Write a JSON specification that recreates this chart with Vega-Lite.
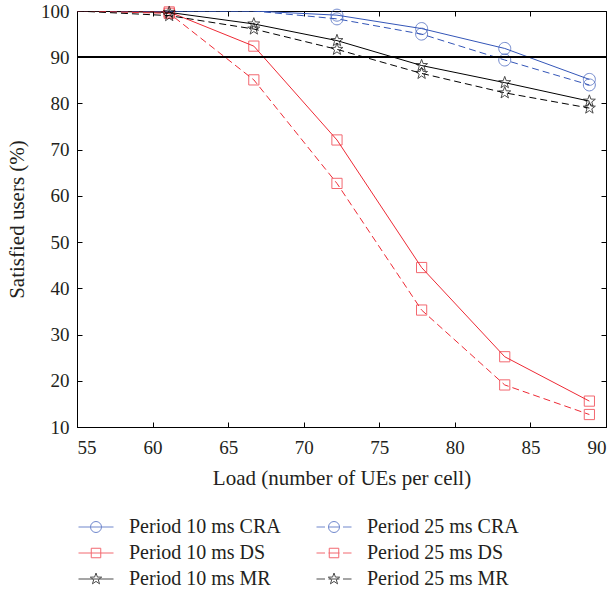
{
  "$schema": "https://vega.github.io/schema/vega-lite/v6.json",
  "width": 529,
  "height": 416,
  "autosize": "none",
  "padding": {"left": 77, "top": 11, "right": 9, "bottom": 163},
  "background": "white",
  "config": {
    "view": {"stroke": "black", "strokeWidth": 1},
    "font": "Liberation Serif",
    "axis": {
      "labelFont": "Liberation Serif",
      "labelFontSize": 19,
      "labelColor": "#231f20",
      "titleFont": "Liberation Serif",
      "titleFontSize": 21,
      "titleFontWeight": "normal",
      "titleColor": "#231f20",
      "domainColor": "black",
      "tickColor": "black",
      "tickSize": -5,
      "grid": false
    },
    "legend": {
      "orient": "none",
      "legendX": 9,
      "legendY": 506,
      "columns": 2,
      "direction": "horizontal",
      "labelFont": "Liberation Serif",
      "labelFontSize": 20,
      "labelColor": "#231f20",
      "symbolSize": 100,
      "symbolStrokeWidth": 1,
      "symbolFillColor": "transparent",
      "labelOffset": 23,
      "columnPadding": 33,
      "rowPadding": 6
    }
  },
  "data": {
    "values": [
      {"series": "Period 10 ms CRA", "load": 55, "value": 100},
      {"series": "Period 10 ms CRA", "load": 61.1, "value": 100},
      {"series": "Period 10 ms CRA", "load": 66.7, "value": 100},
      {"series": "Period 10 ms CRA", "load": 72.2, "value": 99.1},
      {"series": "Period 10 ms CRA", "load": 77.8, "value": 96.2},
      {"series": "Period 10 ms CRA", "load": 83.3, "value": 91.9},
      {"series": "Period 10 ms CRA", "load": 88.9, "value": 85.2},
      {"series": "Period 25 ms CRA", "load": 55, "value": 100},
      {"series": "Period 25 ms CRA", "load": 61.1, "value": 100},
      {"series": "Period 25 ms CRA", "load": 66.7, "value": 100},
      {"series": "Period 25 ms CRA", "load": 72.2, "value": 98.3},
      {"series": "Period 25 ms CRA", "load": 77.8, "value": 95.0},
      {"series": "Period 25 ms CRA", "load": 83.3, "value": 89.4},
      {"series": "Period 25 ms CRA", "load": 88.9, "value": 84.0},
      {"series": "Period 10 ms DS", "load": 55, "value": 100},
      {"series": "Period 10 ms DS", "load": 61.1, "value": 99.8},
      {"series": "Period 10 ms DS", "load": 66.7, "value": 92.4},
      {"series": "Period 10 ms DS", "load": 72.2, "value": 72.1},
      {"series": "Period 10 ms DS", "load": 77.8, "value": 44.5},
      {"series": "Period 10 ms DS", "load": 83.3, "value": 25.2},
      {"series": "Period 10 ms DS", "load": 88.9, "value": 15.6},
      {"series": "Period 25 ms DS", "load": 55, "value": 100},
      {"series": "Period 25 ms DS", "load": 61.1, "value": 99.5},
      {"series": "Period 25 ms DS", "load": 66.7, "value": 85.1},
      {"series": "Period 25 ms DS", "load": 72.2, "value": 62.7},
      {"series": "Period 25 ms DS", "load": 77.8, "value": 35.3},
      {"series": "Period 25 ms DS", "load": 83.3, "value": 19.1},
      {"series": "Period 25 ms DS", "load": 88.9, "value": 12.7},
      {"series": "Period 10 ms MR", "load": 55, "value": 100},
      {"series": "Period 10 ms MR", "load": 61.1, "value": 99.7},
      {"series": "Period 10 ms MR", "load": 66.7, "value": 97.2},
      {"series": "Period 10 ms MR", "load": 72.2, "value": 93.6},
      {"series": "Period 10 ms MR", "load": 77.8, "value": 88.2},
      {"series": "Period 10 ms MR", "load": 83.3, "value": 84.5},
      {"series": "Period 10 ms MR", "load": 88.9, "value": 80.5},
      {"series": "Period 25 ms MR", "load": 55, "value": 100},
      {"series": "Period 25 ms MR", "load": 61.1, "value": 99.0},
      {"series": "Period 25 ms MR", "load": 66.7, "value": 96.1},
      {"series": "Period 25 ms MR", "load": 72.2, "value": 91.7},
      {"series": "Period 25 ms MR", "load": 77.8, "value": 86.5},
      {"series": "Period 25 ms MR", "load": 83.3, "value": 82.3},
      {"series": "Period 25 ms MR", "load": 88.9, "value": 79.0}
    ]
  },
  "encoding": {
    "color": {
      "field": "series", "type": "nominal",
      "scale": {
        "domain": ["Period 10 ms CRA", "Period 25 ms CRA", "Period 10 ms DS", "Period 25 ms DS", "Period 10 ms MR", "Period 25 ms MR"],
        "range": ["#3456b8", "#3456b8", "#ee2a35", "#ee2a35", "#000000", "#000000"]
      },
      "legend": {
        "title": null,
        "symbolType": {"expr": "(indexof(datum.value,'25 ms')>=0 ? 'M-3.5,0H-1.8M-1.1,0H1.1M1.8,0H3.5' : 'M-3.5,0H3.5') + (indexof(datum.value,'CRA')>=0 ? 'M1.1,0A1.1,1.1 0 1,1 -1.1,0A1.1,1.1 0 1,1 1.1,0Z' : indexof(datum.value,'DS')>=0 ? 'M-0.95,-0.95H0.95V0.95H-0.95Z' : 'M0,-1.2L0.28,-0.39L1.14,-0.37L0.46,0.15L0.71,0.97L0,0.48L-0.71,0.97L-0.46,0.15L-1.14,-0.37L-0.28,-0.39Z')"}
      }
    }
  },
  "layer": [
    {
      "transform": [{"filter": "indexof(datum.series,'10 ms')>=0"}],
      "mark": {"type": "line", "strokeWidth": 1, "clip": true},
      "encoding": {
        "x": {
          "field": "load", "type": "quantitative",
          "scale": {"domain": [55, 90], "nice": false, "zero": false},
          "axis": {"values": [55, 60, 65, 70, 75, 80, 85, 90], "title": "Load (number of UEs per cell)", "labelPadding": 16, "titlePadding": 10}
        },
        "y": {
          "field": "value", "type": "quantitative",
          "scale": {"domain": [10, 100], "nice": false, "zero": false},
          "axis": {"values": [10, 20, 30, 40, 50, 60, 70, 80, 90, 100], "title": "Satisfied users (%)", "labelPadding": 13, "titlePadding": 13}
        }
      }
    },
    {
      "transform": [{"filter": "indexof(datum.series,'25 ms')>=0"}],
      "mark": {"type": "line", "strokeWidth": 1, "strokeDash": [7, 4], "clip": true},
      "encoding": {
        "x": {"field": "load", "type": "quantitative", "axis": null},
        "y": {"field": "value", "type": "quantitative", "axis": null}
      }
    },
    {
      "transform": [{"filter": "datum.load > 55 && datum.value < 100 && indexof(datum.series,'CRA')>=0"}],
      "mark": {"type": "point", "filled": false, "strokeWidth": 1, "size": 144, "shape": "M1,0A1,1 0 1,1 -1,0A1,1 0 1,1 1,0Z"},
      "encoding": {
        "x": {"field": "load", "type": "quantitative", "axis": {"orient": "top", "labels": false, "title": null, "values": [55, 60, 65, 70, 75, 80, 85, 90], "domain": false}},
        "y": {"field": "value", "type": "quantitative", "axis": {"orient": "right", "labels": false, "title": null, "values": [10, 20, 30, 40, 50, 60, 70, 80, 90, 100], "domain": false}}
      }
    },
    {
      "transform": [{"filter": "datum.load > 55 && datum.value < 100 && indexof(datum.series,'DS')>=0"}],
      "mark": {"type": "point", "filled": false, "strokeWidth": 1, "size": 144, "shape": "M-0.85,-0.85H0.85V0.85H-0.85Z"},
      "encoding": {
        "x": {"field": "load", "type": "quantitative", "axis": null},
        "y": {"field": "value", "type": "quantitative", "axis": null}
      }
    },
    {
      "transform": [{"filter": "datum.load > 55 && datum.value < 100 && indexof(datum.series,'MR')>=0"}],
      "mark": {"type": "point", "filled": false, "strokeWidth": 1, "size": 144, "shape": "M0,-1.05L0.25,-0.34L1,-0.32L0.4,0.13L0.62,0.85L0,0.42L-0.62,0.85L-0.4,0.13L-1,-0.32L-0.25,-0.34Z"},
      "encoding": {
        "x": {"field": "load", "type": "quantitative", "axis": null},
        "y": {"field": "value", "type": "quantitative", "axis": null}
      }
    },
    {
      "mark": {"type": "rule", "color": "black", "strokeWidth": 1},
      "encoding": {"y": {"datum": 90, "axis": null}, "color": {"value": "black"}}
    }
  ],
  "resolve": {"axis": {"x": "independent", "y": "independent"}}
}
